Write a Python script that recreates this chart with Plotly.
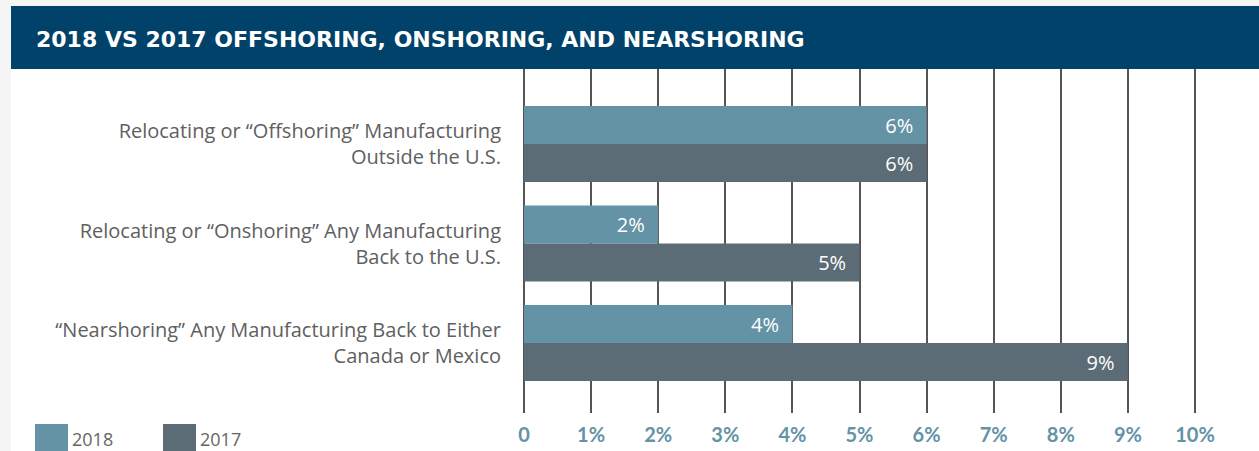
import plotly.graph_objects as go

# Survey categories (top to bottom) and shares per year, in percent
categories = [
    "Relocating or “Offshoring” Manufacturing<br>Outside the U.S.",
    "Relocating or “Onshoring” Any Manufacturing<br>Back to the U.S.",
    "“Nearshoring” Any Manufacturing Back to Either<br>Canada or Mexico",
]
values_2018 = [6, 2, 4]
values_2017 = [6, 5, 9]
series_names = ["2018", "2017"]
series_colors = ["#6393a5", "#5b6c76"]
tick_values = list(range(0, 11))
tick_labels = ["0"] + [f"{v}%" for v in range(1, 11)]
title_text = "2018 VS 2017 OFFSHORING, ONSHORING, AND NEARSHORING"

W, H = 1259, 451
ML, MR, MT, MB = 522, 62, 69, 38
PW, PH = W - ML - MR, H - MT - MB


def px_x(px):
    return (px - ML) / PW


def px_y(py):
    return (H - MB - py) / PH


fig = go.Figure()
for name, vals, color in zip(series_names, [values_2018, values_2017], series_colors):
    fig.add_trace(go.Bar(
        name=name,
        y=categories,
        x=vals,
        orientation="h",
        marker=dict(color=color, line=dict(width=0)),
        text=[f"{v}%\u00a0\u00a0" for v in vals],
        texttemplate="%{text}",
        textposition="inside",
        insidetextanchor="end",
        textangle=0,
        insidetextfont=dict(color="white", size=20, family="Open Sans"),
        hoverinfo="skip",
    ))

shapes = [
    # white card on the grey page
    dict(type="rect", xref="paper", yref="paper", layer="below",
         x0=px_x(11), x1=px_x(W + 5), y0=px_y(H + 5), y1=px_y(69),
         fillcolor="white", line=dict(width=0)),
    # title band
    dict(type="rect", xref="paper", yref="paper", layer="below",
         x0=px_x(11), x1=px_x(W + 5), y0=px_y(69), y1=px_y(6),
         fillcolor="#01426a", line=dict(width=0)),
]
annotations = [
    dict(text=title_text, xref="paper", yref="paper", x=px_x(34), y=px_y(39),
         xanchor="left", yanchor="middle", showarrow=False,
         font=dict(family="DejaVu Sans", size=22, color="white", weight="bold")),
]

# legend swatches and labels
legend_x = [35, 163]
for name, color, lx in zip(series_names, series_colors, legend_x):
    shapes.append(dict(type="rect", xref="paper", yref="paper",
                       x0=px_x(lx), x1=px_x(lx + 33), y0=px_y(H + 2), y1=px_y(424),
                       fillcolor=color, line=dict(width=0)))
    annotations.append(dict(text=name, xref="paper", yref="paper",
                            x=px_x(lx + 35), y=px_y(439), xanchor="left", yanchor="middle",
                            showarrow=False,
                            font=dict(family="Open Sans", size=18, color="#666666")))

fig.update_layout(
    width=W, height=H,
    margin=dict(l=ML, r=MR, t=MT, b=MB, pad=0, autoexpand=False),
    paper_bgcolor="#f5f5f5",
    plot_bgcolor="rgba(0,0,0,0)",
    barmode="group",
    bargap=0.236,
    bargroupgap=0,
    showlegend=False,
    shapes=shapes,
    annotations=annotations,
    xaxis=dict(
        range=[-0.03, 10.03],
        tickvals=tick_values,
        ticktext=tick_labels,
        showgrid=True,
        gridcolor="#555555",
        gridwidth=1.5,
        zeroline=False,
        showline=False,
        ticks="",
        automargin=False,
        ticklabelstandoff=8,
        tickfont=dict(family="Lato", size=20, color="#6393a5", weight="bold"),
        fixedrange=True,
    ),
    yaxis=dict(
        type="category",
        range=[2.703, -0.754],
        showgrid=False,
        zeroline=False,
        showline=False,
        ticks="",
        automargin=False,
        ticklabelstandoff=20,
        tickfont=dict(family="Open Sans", size=20, color="#606060"),
        fixedrange=True,
    ),
)

fig.write_html("out.html", config={"displayModeBar": False})
